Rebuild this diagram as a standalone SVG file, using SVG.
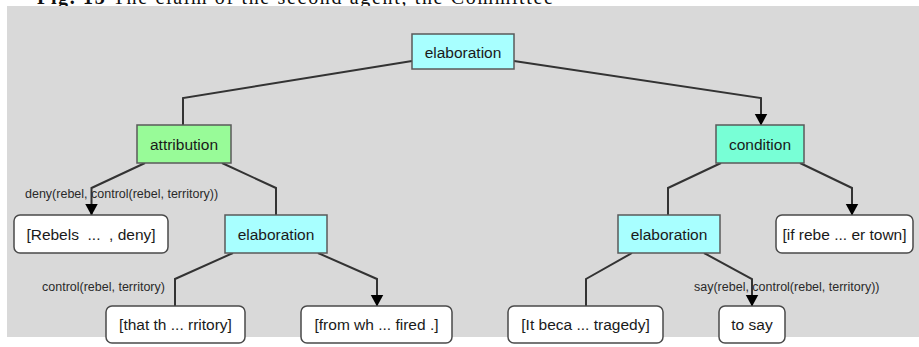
<svg xmlns="http://www.w3.org/2000/svg" width="919" height="347" viewBox="0 0 919 347">
<style>
.caption{font-family:"Liberation Serif","Times New Roman",serif;font-size:20px;fill:#111}
.box{stroke:#5a5a5a;stroke-width:1.5}
.rel{font-family:"Liberation Sans",Arial,sans-serif;font-size:15.5px;fill:#1a1a1a;text-anchor:middle}
.leaf{fill:#ffffff;stroke:#4a4a4a;stroke-width:1.5}
.edge{fill:none;stroke:#333333;stroke-width:2}
.lbl{font-family:"Liberation Sans",Arial,sans-serif;font-size:12.5px;fill:#2a2a2a}
.cyan{fill:#a8ffff}
.green{fill:#98fb98}
.aqua{fill:#78ffd6}
</style>
<defs>
<marker id="arr" markerUnits="userSpaceOnUse" viewBox="0 -7 12 14" markerWidth="12" markerHeight="14" refX="11.5" refY="0" orient="auto">
<path d="M0,-6.5 L12,0 L0,6.5 z" fill="#000"/>
</marker>
</defs>
<text class="caption" x="37" y="4" textLength="516"><tspan font-weight="bold">Fig. 13</tspan> The claim of the second agent, the Committee</text>
<rect x="7" y="6" width="912" height="331" fill="#d9d9d9"/>

<g id="edge-labels">
<text class="lbl" x="25" y="198">deny(rebel, control(rebel, territory))</text>
<text class="lbl" x="42" y="291">control(rebel, territory)</text>
<text class="lbl" x="694" y="291">say(rebel, control(rebel, territory))</text>
</g>

<g id="connectors">
<path class="edge" d="M412,61 L183,98 L183,125"/>
<path class="edge" d="M514,61 L761,98 L761,125" marker-end="url(#arr)"/>
<path class="edge" d="M145,163 L91.5,188 L91.5,215" marker-end="url(#arr)"/>
<path class="edge" d="M222,163 L276,188 L276,215"/>
<path class="edge" d="M721,163 L668,188 L668,215"/>
<path class="edge" d="M800,163 L852,188 L852,215" marker-end="url(#arr)"/>
<path class="edge" d="M233,253 L175,279 L175,306"/>
<path class="edge" d="M318,253 L377,279 L377,306" marker-end="url(#arr)"/>
<path class="edge" d="M632,253 L586,279 L586,306"/>
<path class="edge" d="M704,253 L752,279 L752,306" marker-end="url(#arr)"/>
</g>

<g id="n-root">
<rect class="box cyan" x="412" y="34" width="102" height="35"/>
<text class="rel" x="463" y="58">elaboration</text>
</g>
<g id="n-attribution">
<rect class="box green" x="137" y="125" width="94" height="38"/>
<text class="rel" x="184" y="150">attribution</text>
</g>
<g id="n-condition">
<rect class="box aqua" x="716" y="125" width="88" height="38"/>
<text class="rel" x="760" y="150">condition</text>
</g>
<g id="n-elab-left">
<rect class="box cyan" x="225" y="215" width="102" height="38"/>
<text class="rel" x="276" y="240">elaboration</text>
</g>
<g id="n-elab-right">
<rect class="box cyan" x="618" y="215" width="102" height="38"/>
<text class="rel" x="669" y="240">elaboration</text>
</g>
<g id="n-rebels">
<rect class="leaf" x="14" y="215" width="154" height="38" rx="6"/>
<text class="rel" x="91" y="240" xml:space="preserve">[Rebels  ...  , deny]</text>
</g>
<g id="n-ifrebe">
<rect class="leaf" x="776" y="215" width="137" height="38" rx="6"/>
<text class="rel" x="844.5" y="240">[if rebe ... er town]</text>
</g>
<g id="n-thatth">
<rect class="leaf" x="106" y="306" width="139" height="37" rx="6"/>
<text class="rel" x="175.5" y="330">[that th ... rritory]</text>
</g>
<g id="n-fromwh">
<rect class="leaf" x="301" y="306" width="151" height="37" rx="6"/>
<text class="rel" x="376.5" y="330">[from wh ... fired .]</text>
</g>
<g id="n-itbeca">
<rect class="leaf" x="508" y="306" width="155" height="37" rx="6"/>
<text class="rel" x="585.5" y="330">[It beca ... tragedy]</text>
</g>
<g id="n-tosay">
<rect class="leaf" x="719" y="306" width="66" height="37" rx="6"/>
<text class="rel" x="752" y="330">to say</text>
</g>
</svg>
